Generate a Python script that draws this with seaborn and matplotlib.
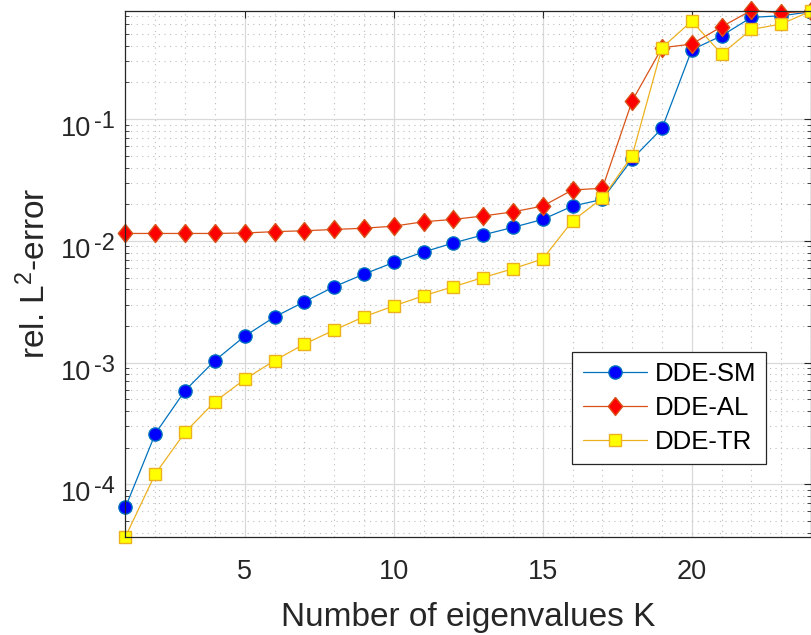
import numpy as np
import pandas as pd
import matplotlib
matplotlib.use("Agg")
import matplotlib.pyplot as plt
import seaborn as sns
from matplotlib.ticker import LogLocator, MultipleLocator, FixedLocator, NullFormatter

K = list(range(1, 25))
dde_sm = [6.5e-5, 2.61e-4, 5.9e-4, 1.04e-3, 1.65e-3, 2.37e-3, 3.16e-3, 4.2e-3, 5.33e-3, 6.65e-3,
          8.1e-3, 9.6e-3, 0.0112, 0.0129, 0.0150, 0.0193, 0.0219, 0.047, 0.0838, 0.37,
          0.483, 0.684, 0.705, 0.76]
dde_al = [0.0115, 0.0115, 0.0115, 0.0115, 0.0116, 0.0119, 0.0121, 0.0124, 0.0127, 0.0132,
          0.01435, 0.0150, 0.0160, 0.0173, 0.0193, 0.0262, 0.0270, 0.141, 0.385, 0.413,
          0.573, 0.78, 0.746, 0.765]
dde_tr = [3.72e-5, 1.22e-4, 2.68e-4, 4.78e-4, 7.29e-4, 1.04e-3, 1.42e-3, 1.85e-3, 2.38e-3, 2.92e-3,
          3.54e-3, 4.2e-3, 5.0e-3, 5.9e-3, 7.1e-3, 0.0146, 0.0224, 0.050, 0.385, 0.638,
          0.342, 0.545, 0.603, 0.77]
labels = ["DDE-SM", "DDE-AL", "DDE-TR"]
x_ticks = [5, 10, 15, 20]
y_ticks = [1e-4, 1e-3, 1e-2, 1e-1]
y_tick_exponents = ["-4", "-3", "-2", "-1"]

sns.set_style("white")
plt.rcParams["font.family"] = ["Liberation Sans", "DejaVu Sans"]
plt.rcParams["mathtext.fontset"] = "custom"
plt.rcParams["mathtext.rm"] = "Liberation Sans"
plt.rcParams["mathtext.it"] = "Liberation Sans:italic"
plt.rcParams["mathtext.bf"] = "Liberation Sans:bold"

TXT = "#262626"
fig = plt.figure(figsize=(8.11, 6.35), dpi=100)
ax = fig.add_axes([125.5 / 811, (635 - 536.7) / 635, (811 - 125.5) / 811, (536.7 - 10.7) / 635])

diamond = [(0, 1), (0.8, 0), (0, -1), (-0.8, 0), (0, 1)]
styles = [
    dict(color="#0072BD", marker="o", markerfacecolor="#0000FF", markeredgecolor="#0072BD", markersize=9.5),
    dict(color="#D95319", marker=diamond, markerfacecolor="#FF0000", markeredgecolor="#D95319", markersize=13),
    dict(color="#EDB120", marker="s", markerfacecolor="#FFFF00", markeredgecolor="#EDB120", markersize=8),
]
series = [dde_sm, dde_al, dde_tr]
for vals, lab, st in zip(series, labels, styles):
    df = pd.DataFrame({"K": K, "err": vals})
    sns.lineplot(data=df, x="K", y="err", ax=ax, label=lab, errorbar=None, sort=False,
                 linewidth=0.9, mew=1.0, clip_on=False, legend=False, **st)

ax.set_yscale("log")
ax.set_xlim(1, 24)
ax.set_ylim(3.72e-5, 0.776)

ax.xaxis.set_major_locator(FixedLocator(x_ticks))
ax.xaxis.set_minor_locator(MultipleLocator(1))
ax.yaxis.set_major_locator(FixedLocator(y_ticks))
ax.set_yticklabels([""] * len(y_ticks))
ax.yaxis.set_minor_locator(LogLocator(base=10, subs=np.arange(2, 10), numticks=20))
ax.yaxis.set_minor_formatter(NullFormatter())

# y tick labels drawn as base + superscript exponent (MATLAB style)
ytr = ax.get_yaxis_transform()
for t, e in zip(y_ticks, y_tick_exponents):
    ax.annotate("10", xy=(0, t), xycoords=ytr, xytext=(-34, -17), textcoords="offset pixels",
                ha="right", va="baseline", fontsize=19.5, color=TXT, annotation_clip=False)
    ax.annotate(e, xy=(0, t), xycoords=ytr, xytext=(-31, -9), textcoords="offset pixels",
                ha="left", va="baseline", fontsize=17, color=TXT, annotation_clip=False)

ax.grid(which="major", color="#d9d9d9", linestyle="-", linewidth=0.9)
ax.grid(which="minor", color="#bdbdbd", linestyle=(0, (1, 4)), linewidth=0.8)
ax.set_axisbelow(True)

ax.tick_params(axis="both", which="major", direction="in", length=5, width=0.8, colors=TXT,
               top=True, right=True, labelsize=19.5)
ax.tick_params(axis="x", which="major", pad=16)
ax.tick_params(axis="y", which="major", pad=2)
ax.tick_params(axis="y", which="minor", direction="in", length=3, width=0.6, colors=TXT,
               left=True, right=True)
ax.tick_params(axis="x", which="minor", length=0)
for sp in ax.spines.values():
    sp.set_color(TXT)
    sp.set_linewidth(0.9)
    sp.set_visible(True)

ax.set_xlabel("Number of eigenvalues K", fontsize=24, color=TXT, labelpad=12)
ax.set_ylabel(r"rel. L$^2$-error", fontsize=24, color=TXT)
ax.yaxis.set_label_coords((52 - 125.5) / 685.5, 0.5)

leg = ax.legend(loc="upper left", bbox_to_anchor=(0.652, 0.3517), fontsize=18.5, frameon=True,
                fancybox=False, edgecolor=TXT, framealpha=1, borderpad=0.4,
                handlelength=2.5, handletextpad=0.3, labelspacing=0.38, borderaxespad=0)
leg.get_frame().set_linewidth(0.9)
for t in leg.get_texts():
    t.set_color("black")

fig.savefig("out.png", dpi=100)
